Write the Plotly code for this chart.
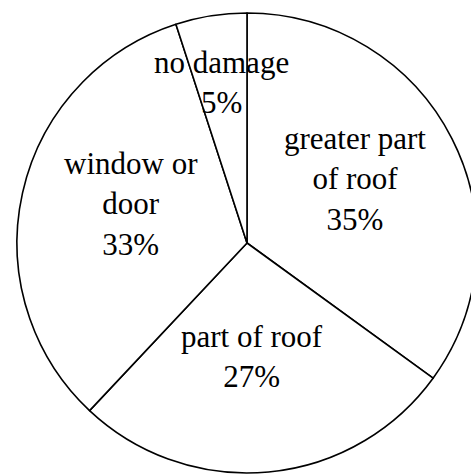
import math

import plotly.graph_objects as go

# Damage categories, clockwise from 12 o'clock
labels = ["greater part of roof", "part of roof", "window or door", "no damage"]
label_text = ["greater part<br>of roof", "part of roof", "window or<br>door", "no damage"]
shares = [35, 27, 33, 5]

# label placement: fraction of radius and small angular nudge (degrees)
label_radius = [0.54, 0.50, 0.53, 0.70]
label_nudge = [-3, 3, 5, 0]

FONT = "Liberation Serif, Times New Roman, serif"

fig = go.Figure(
    go.Pie(
        labels=labels,
        values=shares,
        sort=False,
        direction="clockwise",
        rotation=0,
        textinfo="none",
        hoverinfo="skip",
        marker={"colors": ["white"] * len(shares), "line": {"color": "black", "width": 1.6}},
        domain={"x": [0, 1], "y": [0, 1]},
    )
)

# label annotations at each slice's mid-angle
total = sum(shares)
start = 0.0
annotations = []
for text, val, rf, nudge in zip(label_text, shares, label_radius, label_nudge):
    mid = start + val / total * 360 / 2 + nudge
    start += val / total * 360
    theta = math.radians(mid)
    annotations.append(
        dict(
            x=0.5 + 0.5 * rf * math.sin(theta),
            y=0.5 + 0.5 * rf * math.cos(theta) + 0.004,
            xref="paper",
            yref="paper",
            text=f"{text}<br>{round(val / total * 100)}%",
            showarrow=False,
            xanchor="center",
            yanchor="middle",
            font={"family": FONT, "size": 31, "color": "black"},
        )
    )

fig.update_layout(
    width=477,
    height=475,
    margin={"l": 17, "r": 0, "t": 13, "b": 2, "pad": 0},
    showlegend=False,
    paper_bgcolor="white",
    plot_bgcolor="white",
    annotations=annotations,
)

fig.write_html(
    "out.html",
    config={"displayModeBar": False},
    post_script="document.body.style.margin='0';document.body.style.overflow='hidden';",
)
